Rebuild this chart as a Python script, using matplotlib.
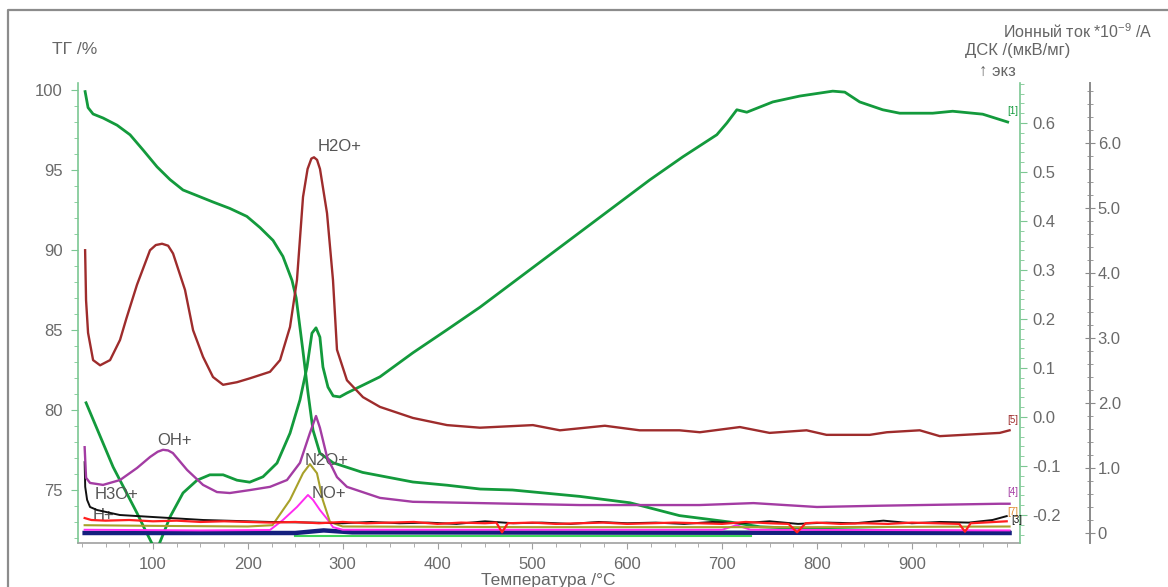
import matplotlib
matplotlib.use('Agg')
import matplotlib.pyplot as plt
from matplotlib.ticker import MultipleLocator, FixedLocator, FixedFormatter
from matplotlib.lines import Line2D

plt.rcParams['font.family'] = ['Liberation Sans', 'DejaVu Sans']
plt.rcParams['axes.unicode_minus'] = False
plt.rcParams['mathtext.default'] = 'regular'

# ---------------- data ----------------
# TG curve (%)
tg_T = [28.5, 31.6, 36.9, 47.4, 62.2, 75.9, 89.6, 104.3, 118, 131.7, 146.5, 163.3, 181, 199,
        212.9, 226.6, 237, 246.6, 251, 258, 263.4, 268.7, 276, 290, 321, 374, 410, 445, 479,
        550, 603, 655, 708, 740, 800, 900, 1003]
tg_v = [99.9, 98.9, 98.5, 98.25, 97.8, 97.2, 96.25, 95.2, 94.4, 93.75, 93.4, 93.0, 92.6, 92.1,
        91.4, 90.6, 89.6, 88.1, 87.0, 83.75, 81.1, 78.75, 77.3, 76.7, 76.1, 75.5, 75.3, 75.06, 75.0,
        74.6, 74.2, 73.4, 73.0, 72.7, 72.55, 72.45, 72.4]

# DSC curve (uV/mg)
dsc_T = [29.5, 58, 83.2, 91.7, 100, 106, 112.7, 118, 131.7, 146.5, 160, 174, 188.6, 202, 216,
         230.8, 244.5, 255, 262.4, 267.6, 271.9, 276, 279.2, 284.5, 290, 297, 304.5, 339.3, 374,
         410, 444.7, 623.8, 658.6, 694.4, 705, 715.5, 726, 753.4, 781.9, 816.6, 829.3, 845,
         869.3, 887.2, 922, 943, 974.7, 1001]
dsc_v = [0.029, -0.102, -0.196, -0.23, -0.262, -0.262, -0.23, -0.204, -0.155, -0.129, -0.118,
         -0.118, -0.129, -0.133, -0.122, -0.094, -0.033, 0.035, 0.102, 0.171, 0.182, 0.163, 0.102,
         0.061, 0.043, 0.041, 0.049, 0.082, 0.131, 0.178, 0.224, 0.484, 0.531, 0.576, 0.600,
         0.627, 0.622, 0.643, 0.655, 0.665, 0.663, 0.643, 0.627, 0.620, 0.620, 0.624, 0.618, 0.602]

# Ion currents (*1e-9 A)
h2o_T = [28.5, 29.5, 31.6, 36.9, 44.3, 54.8, 65.3, 72, 83.2, 96.9, 103, 109.6, 116, 121.2, 133.8,
         142.3, 152.8, 163.3, 173.9, 188.6, 202.3, 223.4, 234, 244.5, 251.8, 258.2, 263, 267,
         269.8, 273, 276.1, 283.5, 289.8, 294, 304.5, 321.4, 339.3, 374, 410, 444.7, 500.5, 529,
         576.4, 613, 655, 676.5, 718.7, 750, 789, 810, 855.6, 873.6, 908.3, 929.4, 992.6, 1003]
h2o_v = [4.35, 3.58, 3.08, 2.66, 2.58, 2.66, 2.97, 3.3, 3.82, 4.35, 4.43, 4.45, 4.42, 4.3, 3.74,
         3.12, 2.71, 2.40, 2.28, 2.32, 2.38, 2.48, 2.66, 3.17, 3.89, 5.17, 5.6, 5.76,
         5.78, 5.74, 5.6, 4.92, 3.89, 2.82, 2.35, 2.09, 1.94, 1.77, 1.66, 1.62, 1.66, 1.58,
         1.65, 1.58, 1.58, 1.55, 1.63, 1.54, 1.58, 1.51, 1.51, 1.55, 1.58, 1.49, 1.54, 1.58]

oh_T = [28, 29.5, 33.7, 47.4, 65.3, 83.2, 97, 105, 110.6, 116, 121, 136, 152.8, 167.5, 181, 202,
        223.4, 241.3, 255, 265.5, 271.9, 276, 283.5, 294, 304.5, 339.3, 374, 444.7, 550, 676, 733,
        800, 867, 993, 1003]
oh_v = [1.32, 0.85, 0.77, 0.74, 0.815, 1.0, 1.17, 1.25, 1.28, 1.27, 1.23, 0.97, 0.74, 0.63, 0.615,
        0.66, 0.71, 0.815, 1.08, 1.54, 1.80, 1.62, 1.17, 0.86, 0.71, 0.54, 0.48, 0.46, 0.43, 0.43,
        0.46, 0.40, 0.42, 0.45, 0.45]

h3o_T = [28, 28.6, 30.6, 33.7, 41, 65, 100, 153, 223, 270, 300, 330, 360, 390, 420, 450, 480,
         510, 540, 570, 600, 630, 660, 690, 720, 750, 780, 810, 840, 870, 900, 930, 960, 985, 1000]
h3o_v = [1.09, 0.71, 0.51, 0.40, 0.354, 0.277, 0.246, 0.2, 0.17, 0.16, 0.15, 0.17, 0.15, 0.16,
         0.14, 0.18, 0.15, 0.16, 0.14, 0.17, 0.15, 0.16, 0.14, 0.17, 0.15, 0.18, 0.14, 0.16, 0.15,
         0.19, 0.15, 0.17, 0.16, 0.2, 0.26]

n2o_T = [28, 100, 200, 226, 244.5, 258.2, 265.5, 272.9, 279, 286.6, 300, 500, 800, 1003]
n2o_v = [0.12, 0.11, 0.10, 0.12, 0.51, 0.92, 1.06, 0.92, 0.51, 0.17, 0.10, 0.09, 0.09, 0.10]

no_T = [28, 150, 223.4, 237, 251.8, 263.4, 268.7, 276, 284.5, 289.8, 300, 700, 715, 730, 1003]
no_v = [0.05, 0.04, 0.046, 0.2, 0.4, 0.585, 0.51, 0.354, 0.2, 0.09, 0.05, 0.05, 0.12, 0.05, 0.04]

red_T = [28, 35, 50, 75, 100, 125, 150, 175, 200, 225, 250, 275, 300, 325, 350, 375, 400, 425,
         450, 462, 468, 474, 500, 525, 550, 575, 600, 625, 650, 675, 700, 725, 750, 770, 779, 788,
         800, 825, 850, 875, 900, 925, 950, 956, 962, 975, 1000]
red_v = [0.23, 0.2, 0.19, 0.2, 0.18, 0.19, 0.17, 0.18, 0.17, 0.16, 0.17, 0.15, 0.17, 0.15, 0.16,
         0.17, 0.14, 0.16, 0.15, 0.16, 0.01, 0.15, 0.16, 0.14, 0.15, 0.16, 0.14, 0.15, 0.16, 0.15,
         0.14, 0.17, 0.15, 0.14, 0.01, 0.15, 0.16, 0.14, 0.15, 0.14, 0.16, 0.15, 0.14, 0.02, 0.15,
         0.16, 0.18]

navy_T = [28, 250, 280, 310, 1003]
navy_v = [0.0, 0.0, 0.04, 0.01, 0.0]

lgreen_T = [250, 730]
lgreen_v = [-0.045, -0.045]

x_ticks = [100, 200, 300, 400, 500, 600, 700, 800, 900]
tg_ticks = [75, 80, 85, 90, 95, 100]
dsc_ticks = [-0.2, -0.1, 0.0, 0.1, 0.2, 0.3, 0.4, 0.5, 0.6]
dsc_labels = ['-0.2', '-0.1', '0.0', '0.1', '0.2', '0.3', '0.4', '0.5', '0.6']
ion_ticks = [0, 1, 2, 3, 4, 5, 6]
ion_labels = ['0', '1.0', '2.0', '3.0', '4.0', '5.0', '6.0']

# ---------------- figure ----------------
W, H = 1168, 587
fig = plt.figure(figsize=(W / 100, H / 100), dpi=100)
L, R, T, B = 78, 1020, 83, 543
ax = fig.add_axes([L / W, 1 - B / H, (R - L) / W, (B - T) / H])
axd = ax.twinx()
axi = ax.twinx()
axi.spines['right'].set_position(('axes', (1090 - L) / (R - L)))

tcol = '#6a6a6a'
spg = '#7cc792'
green = '#139a3c'

for a in (ax, axd, axi):
    a.spines['top'].set_visible(False)
ax.spines['right'].set_visible(False)
axd.spines['left'].set_visible(False)
axd.spines['bottom'].set_visible(False)
axi.spines['left'].set_visible(False)
axi.spines['bottom'].set_visible(False)
ax.spines['left'].set_color(spg)
ax.spines['bottom'].set_color('#a0a0a0')
axd.spines['right'].set_color(spg)
axi.spines['right'].set_color('#8a8a8a')
for s in (ax.spines['left'], ax.spines['bottom'], axd.spines['right']):
    s.set_linewidth(1.2)
axi.spines['right'].set_linewidth(1.4)

ax.set_xlim(21, 1014)
ax.set_ylim(100 - (B - 90) / 16, 100 + (90 - T) / 16)
axd.set_ylim((417 - B) / 490, (417 - T) / 490)
axi.set_ylim((533 - B) / 65, (533 - T) / 65)

ax.xaxis.set_major_locator(FixedLocator(x_ticks))
ax.xaxis.set_minor_locator(MultipleLocator(25))
ax.yaxis.set_major_locator(FixedLocator(tg_ticks))
ax.yaxis.set_minor_locator(MultipleLocator(1))
axd.yaxis.set_major_locator(FixedLocator(dsc_ticks))
axd.yaxis.set_major_formatter(FixedFormatter(dsc_labels))
axd.yaxis.set_minor_locator(MultipleLocator(0.02))
axi.yaxis.set_major_locator(FixedLocator(ion_ticks))
axi.yaxis.set_major_formatter(FixedFormatter(ion_labels))
axi.yaxis.set_minor_locator(MultipleLocator(0.2))

ax.tick_params(axis='x', which='major', direction='out', length=4, color='#a0a0a0',
               labelsize=12, labelcolor=tcol, pad=6)
ax.tick_params(axis='x', which='minor', direction='out', length=3, color='#a0a0a0')
ax.tick_params(axis='y', which='major', direction='out', length=5, color=spg,
               labelsize=12, labelcolor=tcol, pad=6)
ax.tick_params(axis='y', which='minor', direction='out', length=3, color=spg)
axd.tick_params(axis='y', which='major', direction='out', length=5, color=spg,
                labelsize=12, labelcolor=tcol, pad=4)
axd.tick_params(axis='y', which='minor', direction='out', length=3, color=spg)
axi.tick_params(axis='y', which='major', direction='inout', length=7, color='#8a8a8a',
                labelsize=12, labelcolor=tcol, pad=2)
axi.tick_params(axis='y', which='minor', direction='inout', length=4, color='#8a8a8a')

# ion current curves
axi.plot(lgreen_T, lgreen_v, color='#3fd45a', lw=1.5, zorder=1)
axi.plot(navy_T, navy_v, color='#14207e', lw=3.2, zorder=2)
axi.plot(no_T, no_v, color='#ff2cf0', lw=1.4, zorder=3)
axi.plot(n2o_T, n2o_v, color='#a8a12a', lw=1.5, zorder=3)
axi.plot(red_T, red_v, color='#ff1f1f', lw=1.6, zorder=4)
axi.plot(h3o_T, h3o_v, color='#111111', lw=1.4, zorder=3)
axi.plot(oh_T, oh_v, color='#a33ca3', lw=1.7, zorder=4)
axi.plot(h2o_T, h2o_v, color='#9e2c2c', lw=1.7, zorder=4)

# TG and DSC
ax.plot(tg_T, tg_v, color=green, lw=2.0, zorder=5)
axd.plot(dsc_T, dsc_v, color=green, lw=2.0, zorder=5)

# annotations
lab = dict(color='#555555', fontsize=12, ha='center', va='center')
axi.text(297, 5.94, 'H2O+', **lab)
axi.text(123, 1.43, 'OH+', **lab)
axi.text(283.5, 1.12, 'N2O+', zorder=3.5, **lab)
axi.text(286, 0.6, 'NO+', zorder=3.5, **lab)
axi.text(62, 0.585, 'H3O+', zorder=2.5, **lab)
axi.text(48, 0.27, 'H+', zorder=1.5, **lab)

sm = dict(fontsize=7, ha='right', va='center')
axi.text(1012, 6.5, '[1]', color=green, **sm)
axi.text(1012, 1.74, '[5]', color='#9e2c2c', **sm)
axi.text(1012, 0.63, '[4]', color='#a33ca3', **sm)
axi.text(1012, 0.33, '[7]', color='#e08a30', **sm)
axi.text(1016, 0.2, '[3]', color='#111111', **sm)

# axis titles
ftc = '#666666'
fig.text(52 / W, 1 - 49 / H, 'ТГ /%', color=ftc, fontsize=12.5, ha='left', va='center')
fig.text(1003 / W, 1 - 32 / H, 'Ионный ток *10$^{-9}$ /А', color=ftc, fontsize=11.5,
         ha='left', va='center')
fig.text(1018 / W, 1 - 50 / H, 'ДСК /(мкВ/мг)', color=ftc, fontsize=12, ha='center', va='center')
fig.text(997 / W, 1 - 71 / H, '↑ экз', color=ftc, fontsize=12, ha='center', va='center')
fig.text(548 / W, 1 - 580 / H, 'Температура /°C', color=ftc, fontsize=12.5, ha='center',
         va='center')

# outer frame of the screenshot
fig.add_artist(Line2D([8 / W, 8 / W, 1.0], [0.0, 1 - 10 / H, 1 - 10 / H],
                      transform=fig.transFigure, color='#8c8c8c', lw=1.6))

fig.savefig('out.png', dpi=100, facecolor='white')
